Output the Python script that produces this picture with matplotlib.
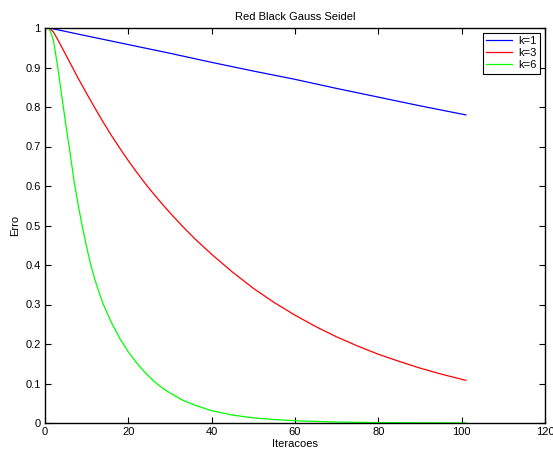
import matplotlib
matplotlib.use("Agg")
import matplotlib.pyplot as plt

plt.rcParams['font.family'] = ['Liberation Sans', 'DejaVu Sans']

# k=1 (blue)
iters_k1 = [1, 10, 20, 30, 40, 50, 60, 70, 80, 90, 101]
err_k1 = [1.0, 0.980, 0.958, 0.936, 0.913, 0.891, 0.870, 0.847, 0.825, 0.803,
          0.780]

# k=3 (red)
iters_k3 = [1, 2, 3, 4, 5, 6, 7, 8, 9, 10, 12, 14, 16, 18, 20, 22, 24, 26, 28,
            30, 33, 36, 40, 45, 50, 55, 60, 65, 70, 75, 80, 85, 90, 95, 101]
err_k3 = [1.0, 0.99, 0.972, 0.952, 0.932, 0.912, 0.892, 0.872, 0.853, 0.834,
          0.797, 0.761, 0.727, 0.695, 0.664, 0.635, 0.607, 0.581, 0.556,
          0.532, 0.498, 0.466, 0.427, 0.382, 0.341, 0.305, 0.273, 0.244,
          0.218, 0.195, 0.174, 0.156, 0.139, 0.124, 0.108]

# k=6 (green)
iters_k6 = [1, 2, 3, 4, 5, 6, 7, 8, 9, 10, 11, 12, 13, 14, 16, 18, 20, 22, 24,
            26, 28, 30, 33, 36, 40, 45, 50, 55, 60, 70, 80, 90, 101]
err_k6 = [1.0, 0.97, 0.905, 0.83, 0.755, 0.685, 0.61, 0.55, 0.495, 0.445,
          0.40, 0.362, 0.33, 0.30, 0.253, 0.213, 0.18, 0.152, 0.128, 0.107,
          0.09, 0.076, 0.058, 0.045, 0.031, 0.020, 0.013, 0.0087, 0.0057,
          0.0024, 0.001, 0.0004, 0.0002]

labels = ['k=1', 'k=3', 'k=6']
colors = ['#0000ff', '#ff0000', '#00ff00']
xticks = [0, 20, 40, 60, 80, 100, 120]
yticks = [0, 0.1, 0.2, 0.3, 0.4, 0.5, 0.6, 0.7, 0.8, 0.9, 1]
ytick_labels = ['0', '0.1', '0.2', '0.3', '0.4', '0.5', '0.6', '0.7', '0.8',
                '0.9', '1']

fig = plt.figure(figsize=(5.53, 4.53), dpi=100)
ax = fig.add_axes([45/553, 1-423/453, 500/553, 395/453])

for xs, ys, lab, c in zip([iters_k1, iters_k3, iters_k6],
                          [err_k1, err_k3, err_k6], labels, colors):
    ax.plot(xs, ys, color=c, lw=0.9, label=lab)

ax.set_xlim(0, 120)
ax.set_ylim(0, 1)
ax.set_xticks(xticks)
ax.set_yticks(yticks)
ax.set_yticklabels(ytick_labels)
ax.tick_params(direction='in', length=4, width=0.8, top=True, right=True,
               labelsize=8, pad=3)
for s in ax.spines.values():
    s.set_linewidth(1.0)

ax.set_title('Red Black Gauss Seidel', fontsize=8, pad=6)
ax.set_xlabel('Iteracoes', fontsize=8, labelpad=1)
ax.set_ylabel('Erro', fontsize=8, labelpad=4)

leg = ax.legend(loc='upper right', fontsize=8, fancybox=False,
                edgecolor='black', framealpha=1, handlelength=2.3,
                borderpad=0.3, labelspacing=0.18, borderaxespad=0.45,
                handletextpad=0.6)
leg.get_frame().set_linewidth(0.8)

fig.savefig('out.png', dpi=100)
